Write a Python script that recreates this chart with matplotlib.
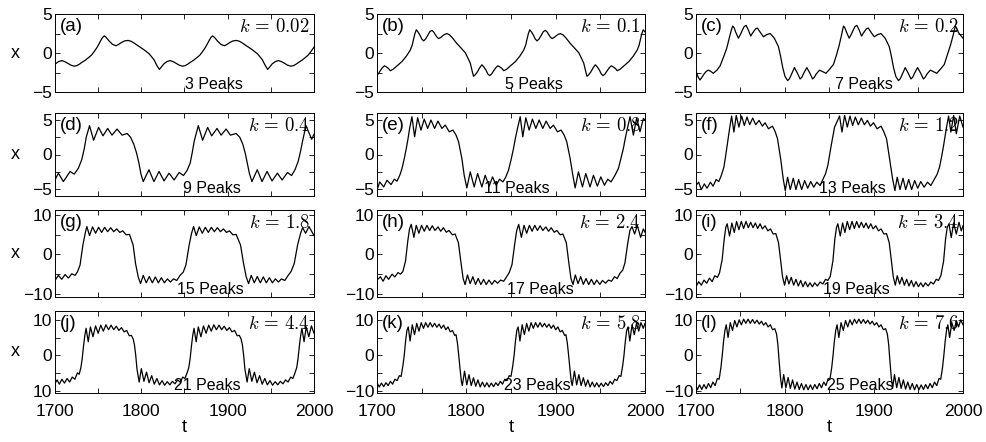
import matplotlib
matplotlib.use("Agg")
import matplotlib.pyplot as plt

plt.rcParams['font.family'] = ['Liberation Sans', 'DejaVu Sans']
plt.rcParams['mathtext.fontset'] = 'cm'

# ---------------- data (t, x) ----------------
PANEL_A = [(1700,-1.42),(1704.2,-1.1),(1707.8,-0.97),(1711.2,-1.1),(1714.5,-1.3),(1718.2,-1.55),
           (1722.2,-1.69),(1725.2,-1.62),(1728,-1.45),(1731.2,-1.2),(1735,-0.93),(1738.2,-0.65),(1742,-0.3),
           (1745.2,0.15),(1748.6,0.7),(1750.9,1.15),(1753,1.6),(1755.2,2.0),(1757.1,2.2),(1759.2,2.0),(1763,1.5),
           (1766.7,1.1),(1770.7,0.93),(1773.7,1.1),(1777,1.35),(1780.7,1.55),(1784.7,1.61),(1788.2,1.5),
           (1792,1.25),(1797.2,0.85),(1803,0.42),(1809,-0.1),(1814.6,-0.85),(1818,-1.6),(1820.9,-2.1),
           (1823.2,-1.8),(1826,-1.4),(1829.7,-1.1),(1833.3,-0.97),(1836.7,-1.1),(1840,-1.3),(1843.7,-1.55),
           (1847.7,-1.69),(1850.7,-1.62),(1853.5,-1.45),(1856.7,-1.2),(1860.5,-0.93),(1863.7,-0.65),(1867.5,-0.3),
           (1870.7,0.15),(1874.1,0.7),(1876.4,1.15),(1878.5,1.6),(1880.7,2.0),(1882.6,2.2),(1884.7,2.0),
           (1888.5,1.5),(1892.2,1.1),(1896.2,0.93),(1899.2,1.1),(1902.5,1.35),(1906.2,1.55),(1910.2,1.61),
           (1913.7,1.5),(1917.5,1.25),(1922.7,0.85),(1928.5,0.42),(1934.5,-0.1),(1940.1,-0.85),(1943.5,-1.6),
           (1946.4,-2.1),(1948.7,-1.8),(1951.5,-1.4),(1955.2,-1.1),(1958.8,-0.97),(1962.2,-1.1),(1965.5,-1.3),
           (1969.2,-1.55),(1973.2,-1.69),(1976.2,-1.62),(1979,-1.45),(1982.2,-1.2),(1986,-0.93),(1989.2,-0.65),
           (1993,-0.3),(1996.2,0.15),(2000,0.75)]

PANEL_B = [(1700,-2.8),(1701.2,-2.7),(1703.5,-2.3),(1705.9,-1.9),(1708.3,-1.64),(1710.7,-1.8),(1713,-2.0),
           (1714.9,-2.27),(1717.9,-2.1),(1720.9,-1.8),(1724.9,-1.4),(1727.9,-1.1),(1732.9,-0.4),(1737.3,0.38),
           (1739.4,1.0),(1741,1.8),(1742.5,2.5),(1744,2.98),(1745.9,2.7),(1748,2.3),(1750.1,1.8),(1752.2,1.55),
           (1754.4,1.8),(1757,2.3),(1759.2,2.75),(1761.5,2.9),(1763.4,2.7),(1765,2.4),(1767,2.05),(1769,1.85),
           (1771.4,2.0),(1773.5,2.2),(1775.9,2.4),(1778.3,2.48),(1780.9,2.35),(1784,2.0),(1789.4,1.22),
           (1794,0.65),(1798.8,0.04),(1802,-0.7),(1804.4,-1.3),(1806.5,-2.3),(1808,-2.98),(1809.9,-2.8),
           (1812.5,-2.4),(1814.9,-1.9),(1817.4,-1.51),(1819.7,-1.8),(1822,-2.2),(1823.9,-2.65),(1826,-2.9),
           (1828.2,-2.7),(1830.5,-2.3),(1832.9,-1.9),(1835.3,-1.64),(1837.7,-1.8),(1840,-2.0),
           (1841.9,-2.27),(1844.9,-2.1),(1847.9,-1.8),(1851.9,-1.4),(1854.9,-1.1),(1859.9,-0.4),(1864.3,0.38),
           (1866.4,1.0),(1868,1.8),(1869.5,2.5),(1871,2.98),(1872.9,2.7),(1875,2.3),(1877.1,1.8),(1879.2,1.55),
           (1881.4,1.8),(1884,2.3),(1886.2,2.75),(1888.5,2.9),(1890.4,2.7),(1892,2.4),(1894,2.05),(1896,1.85),
           (1898.4,2.0),(1900.5,2.2),(1902.9,2.4),(1905.3,2.48),(1907.9,2.35),(1911,2.0),(1916.4,1.22),
           (1921,0.65),(1925.8,0.04),(1929,-0.7),(1931.4,-1.3),(1933.5,-2.3),(1935,-2.98),(1936.9,-2.8),
           (1939.5,-2.4),(1941.9,-1.9),(1944.4,-1.51),(1946.7,-1.8),(1949,-2.2),(1950.9,-2.65),(1953,-2.9),
           (1955.2,-2.7),(1957.5,-2.3),(1959.9,-1.9),(1962.3,-1.64),(1964.7,-1.8),(1967,-2.0),
           (1968.9,-2.27),(1971.9,-2.1),(1974.9,-1.8),(1978.9,-1.4),(1981.9,-1.1),(1986.9,-0.4),(1991.3,0.38),
           (1993.4,1.0),(1995,1.8),(1996.5,2.5),(1998,2.98),(2000,2.7)]

PANEL_C = [(1700,-2.3),(1702,-3.0),(1704.5,-3.46),(1706.8,-3.1),(1709,-2.7),(1711.5,-2.35),(1713.9,-2.2),
           (1716.5,-2.35),(1719.5,-2.6),(1723.5,-2.2),(1727,-1.67),(1731,-0.5),(1734.5,0.6),(1738,2.2),
           (1739.8,3.0),(1741.3,3.46),(1743,3.2),(1744.5,2.7),(1747.6,1.9),(1750,2.4),(1752,2.9),(1754.2,3.4),
           (1756.3,3.54),(1759,2.9),(1761.5,2.17),(1763.2,2.5),(1765,2.8),(1767,3.1),(1769,3.2),(1772.5,2.6),
           (1775.8,2.08),(1779.5,2.35),(1783.3,2.5),(1788,1.9),(1792.6,0.83),(1795,-0.4),(1797.5,-1.9),
           (1800,-3.0),(1803,-3.54),(1805,-3.3),(1807,-2.8),(1810.6,-1.87),(1814,-2.6),(1817,-3.33),(1819,-3.1),
           (1821,-2.6),(1824.5,-1.87),(1828,-2.6),(1831,-3.33),(1833,-3.1),(1835,-2.7),(1838.8,-2.2),
           (1842.5,-2.4),(1846,-2.6),(1850,-2.1),(1854.5,-1.46),(1858,-0.2),(1861,1.04),(1863.5,2.3),
           (1864.8,3.0),(1865.8,3.46),(1867.4,3.2),(1869,2.7),(1872.1,1.9),(1874.5,2.4),(1876.5,2.9),
           (1878.7,3.4),(1880.8,3.54),(1883.5,2.9),(1886,2.17),(1887.7,2.5),(1889.5,2.8),(1891.5,3.1),
           (1893.5,3.2),(1897,2.6),(1900.3,2.08),(1904,2.35),(1907.8,2.5),(1912.5,1.9),(1917.1,0.83),
           (1919.5,-0.4),(1922,-1.9),(1924.5,-3.0),(1927.5,-3.54),(1929.5,-3.3),(1931.5,-2.8),(1935.1,-1.87),
           (1938.5,-2.6),(1941.5,-3.33),(1943.5,-3.1),(1945.5,-2.6),(1949,-1.87),(1952.5,-2.6),(1955.5,-3.33),
           (1957.5,-3.1),(1959.5,-2.7),(1963.3,-2.2),(1967,-2.4),(1970.5,-2.6),(1974.5,-2.1),(1979,-1.46),
           (1982.5,-0.2),(1986,1.04),(1989,2.3),(1990.4,3.0),(1991.5,3.46),(1993.2,3.1),(1995,2.6),(2000,1.9)]

PANEL_D = [(1700,-3.68),(1703.9,-2.7),(1709.7,-3.92),(1717.5,-2.45),(1722.2,-2.84),(1727,-2.0),(1731,-0.74),
           (1734,0.9),(1736.1,2.45),(1740,4.17),(1744.7,2.06),(1750.5,3.92),(1755.6,2.7),(1761,3.77),(1766,2.8),
           (1771.9,3.68),(1777.7,2.8),(1783.5,3.04),(1787.5,2.5),(1791.3,1.47),(1794.5,0.2),(1797.2,-1.23),
           (1799.5,-2.8),(1802.2,-3.92),(1808.8,-2.2),(1814.6,-3.92),(1820.5,-2.45),(1826.3,-3.82),(1832.1,-2.7),
           (1838,-3.68),(1843.8,-2.6),(1848.8,-3.04),(1853,-2.3),(1856.6,-1.23),(1859,0.3),(1861.3,1.96),
           (1866,4.17),(1871,2.06),(1876.8,3.92),(1881.5,2.7),(1887.7,3.77),(1892.4,2.8),(1898.2,3.68),
           (1903.2,2.8),(1909.8,3.04),(1914,2.5),(1917.6,1.47),(1920.3,0.2),(1922.7,-1.23),(1925.3,-2.8),
           (1928.1,-3.92),(1934.3,-2.2),(1939.8,-3.92),(1945.6,-2.45),(1951.4,-3.82),(1957.6,-2.7),(1963.1,-3.68),
           (1969.3,-2.6),(1974,-3.04),(1978,-2.2),(1981.7,-0.98),(1984.5,0.5),(1986.8,1.96),(1990.7,4.17),
           (1997.3,2.2),(2000,2.94)]

PANEL_E = [(1700,-5.17),(1703,-3.96),(1707.5,-4.69),(1711.2,-3.72),(1715.7,-4.35),(1719.4,-3.57),(1722.4,-3.86),
           (1725.5,-3.0),(1728,-2.03),(1730.5,-0.6),(1732.8,0.87),(1735,2.5),(1736.5,3.77),(1739.1,5.46),
           (1742.1,2.56),(1745.5,5.31),(1749.2,3.53),(1752.9,5.12),(1756.7,3.77),(1760.4,4.98),(1764.5,3.77),
           (1768.2,4.83),(1772.7,3.77),(1776.4,4.25),(1780.9,3.28),(1785,3.53),(1788.5,2.8),(1791.3,1.84),
           (1795,-0.58),(1797.6,-3.0),(1800.6,-4.83),(1804.4,-2.51),(1808.8,-4.69),(1812.6,-2.75),(1817.4,-4.69),
           (1821.1,-3.0),(1825.6,-4.59),(1829.3,-3.24),(1833.4,-4.44),(1837.2,-3.57),(1840.9,-3.96),(1844,-3.3),
           (1847.2,-2.27),(1850,-0.8),(1852.8,0.87),(1855,2.4),(1857.3,3.77),(1860.3,5.46),(1863.2,2.56),
           (1866.6,5.31),(1870.3,3.53),(1874,5.12),(1877.8,3.77),(1881.5,4.98),(1885.6,3.77),(1889.3,4.83),
           (1893.8,3.77),(1897.5,4.25),(1902,3.28),(1906.1,3.53),(1909.5,2.8),(1912.4,1.84),(1916.2,-0.58),
           (1919.2,-3.0),(1921.8,-4.83),(1925.5,-2.51),(1930,-4.69),(1933.7,-2.75),(1938.5,-4.69),(1942.3,-3.0),
           (1946.7,-4.59),(1950.5,-3.24),(1954.6,-4.44),(1958.3,-3.57),(1962,-3.96),(1966,-3.1),(1970.2,-2.03),
           (1973,-0.6),(1975.8,0.87),(1978,2.4),(1980.3,3.77),(1983.3,5.46),(1987,2.8),(1990.7,5.31),
           (1994.4,3.28),(1998.2,5.22),(2000,4.98)]

PANEL_F = [(1700,-4.49),(1703,-4.0),(1706,-5.07),(1709.4,-4.25),(1712.4,-4.88),(1716.2,-4.0),(1719.2,-4.59),
           (1722.6,-3.62),(1725.6,-3.91),(1728.5,-3.0),(1731.3,-1.84),(1733.2,-0.3),(1735,1.3),(1737.7,3.72),
           (1740,5.56),(1742.6,3.24),(1745.2,5.65),(1748.2,3.96),(1751.3,5.56),(1754.3,4.2),(1757.3,5.41),
           (1760.3,4.3),(1763.7,5.27),(1767.1,4.3),(1770.9,4.93),(1774.6,4.1),(1777.6,4.59),(1781.4,3.72),
           (1785.9,4.1),(1789,3.3),(1791.6,2.27),(1795.4,-0.87),(1798,-3.53),(1800.3,-5.22),(1802.9,-3.29),
           (1805.9,-5.07),(1809.3,-3.43),(1812.3,-5.07),(1815.3,-3.62),(1818.7,-5.07),(1822.1,-3.77),
           (1825.5,-4.88),(1828.9,-3.91),(1832.3,-4.73),(1835.7,-4.0),(1839.5,-4.49),(1842.5,-3.62),(1845.5,-2.8),
           (1848.1,-1.59),(1851.9,1.3),(1855.7,3.96),(1861.3,5.56),(1864,3.24),(1867,5.65),(1870,3.96),
           (1873,5.56),(1876,4.2),(1879,5.41),(1882.4,4.3),(1885.8,5.27),(1889.2,4.3),(1892.6,4.93),(1896,4.1),
           (1899.4,4.59),(1903.5,3.72),(1908,4.1),(1911,3.3),(1914.1,2.27),(1917.8,-0.87),(1920.9,-3.53),
           (1923.5,-5.22),(1926.1,-3.29),(1929.2,-5.07),(1932.6,-3.43),(1935.6,-5.07),(1939,-3.62),(1942.3,-5.07),
           (1945.7,-3.77),(1949.1,-4.88),(1952.5,-3.91),(1956.3,-4.73),(1960.1,-4.0),(1963.8,-4.49),
           (1967.6,-3.62),(1970.8,-2.9),(1973.6,-1.84),(1976,-0.3),(1978.2,1.3),(1981.2,3.72),(1983.8,5.56),
           (1986.4,3.24),(1989.5,5.65),(1992.5,3.0),(1996.3,5.56),(2000,3.96)]

PANEL_G = [(1700,-6.6),(1703.9,-5.3),(1707.8,-6.3),(1711.7,-5.1),(1715.5,-6.0),(1719.4,-4.9),(1723.3,-5.3),
           (1726,-4.4),(1729,-2.7),(1732.3,2.4),(1735,5.4),(1736.9,7.1),(1740,4.8),(1743.5,7.0),(1747,5.4),
           (1750.5,6.9),(1754,5.6),(1757.5,6.9),(1761,5.8),(1764.5,6.8),(1768,5.8),(1771.5,6.5),(1775,5.6),
           (1778.5,6.0),(1782.4,5.0),(1786.3,5.1),(1790.5,2.4),(1793.3,-2.3),(1796.4,-5.7),(1799.1,-7.4),
           (1802.2,-5.3),(1805.7,-7.2),(1809.2,-5.6),(1812.7,-7.2),(1816.2,-5.7),(1819.7,-7.2),(1823.2,-5.9),
           (1826.7,-7.2),(1830.2,-6.2),(1833.7,-7.0),(1837.2,-6.2),(1841,-6.6),(1844.9,-5.3),(1848.5,-4.5),
           (1851.6,-2.7),(1855.4,2.4),(1858.2,5.4),(1860.5,7.1),(1863.6,4.8),(1867.1,7.0),(1870.6,5.4),
           (1874.1,6.9),(1877.6,5.6),(1881.1,6.9),(1884.6,5.8),(1888.1,6.8),(1891.6,5.8),(1895.1,6.5),(1898.6,5.6),
           (1902.1,6.0),(1906,5.0),(1909.8,5.1),(1914.9,2.4),(1918.4,-2.3),(1921.5,-5.7),(1924.2,-7.4),
           (1927.3,-5.3),(1930.8,-7.2),(1934.3,-5.6),(1937.8,-7.2),(1941.3,-5.7),(1944.8,-7.2),(1948.3,-5.9),
           (1951.8,-7.2),(1955.3,-6.2),(1958.8,-7.0),(1962.3,-6.2),(1966.2,-6.6),(1970.1,-5.3),(1973.5,-4.3),
           (1977.1,-2.3),(1981,2.4),(1984.5,5.4),(1986.8,6.8),(1990.3,5.4),(1994.2,7.1),(2000,4.8)]

PANEL_H = [(1700,-6.5),(1703.8,-5.65),(1706.8,-6.8),(1710,-5.4),(1713,-6.3),(1716.9,-5.0),(1719.9,-5.7),
           (1723.6,-4.6),(1726.3,-5.0),(1728.9,-4.35),(1731.9,-1.7),(1734.5,3.5),(1736.4,6.5),(1738.3,7.65),
           (1741.3,4.35),(1743.9,7.4),(1746.9,5.4),(1749.9,7.4),(1752.9,5.9),(1755.9,7.4),(1758.9,6.1),
           (1761.9,7.3),(1764.9,6.1),(1768.3,7.0),(1771.3,5.9),(1774.3,6.8),(1777.6,5.65),(1780.6,6.1),
           (1784.4,5.0),(1787.4,5.2),(1791.1,3.0),(1793.8,-1.7),(1796.4,-6.1),(1798.6,-7.65),(1801.3,-5.2),
           (1804.3,-7.4),(1807.3,-5.65),(1810.3,-7.6),(1813.3,-6.1),(1816.3,-7.65),(1819.3,-6.3),(1822.3,-7.65),
           (1825.3,-6.5),(1828.6,-7.6),(1831.6,-6.6),(1835,-7.3),(1838.4,-6.5),(1841.8,-6.8),(1845.1,-5.65),
           (1848,-4.6),(1851.1,-2.6),(1854.1,2.6),(1856.4,6.1),(1858.6,7.65),(1861.6,4.35),(1864.6,7.4),
           (1867.6,5.4),(1870.6,7.4),(1873.6,5.9),(1876.6,7.4),(1879.6,6.1),(1882.6,7.3),(1885.6,6.1),(1889,7.0),
           (1892,5.9),(1895,6.8),(1898.4,5.65),(1901.4,6.1),(1905.1,5.0),(1908.1,5.2),(1911.9,3.0),(1914.5,-1.7),
           (1917.1,-6.1),(1919.4,-7.65),(1922,-5.2),(1925,-7.4),(1928,-5.65),(1931,-7.6),(1934,-6.1),(1937,-7.65),
           (1940,-6.3),(1943,-7.65),(1946,-6.5),(1949.4,-7.6),(1952.4,-6.6),(1955.8,-7.3),(1959.1,-6.5),
           (1962.5,-6.8),(1965.9,-5.65),(1968.9,-6.1),(1971.9,-4.8),(1975,-4.0),(1977.5,-2.2),(1980.5,2.6),
           (1983.1,6.1),(1985.4,7.1),(1988.4,5.2),(1991.4,7.4),(1995.1,4.35),(1998.1,6.5),(2000,5.65)]

PANEL_I = [(1700,-8.2),(1703,-6.9),(1706,-7.8),(1709,-6.5),(1712,-7.3),(1715.1,-6.0),(1718.1,-6.9),(1721.1,-5.4),
           (1724.1,-5.8),(1726.4,-4.7),(1729.4,-1.3),(1731.7,3.9),(1733.5,6.9),(1735,7.8),(1737.7,4.7),(1740.3,8.0),
           (1743,5.6),(1745.6,8.4),(1748.2,6.3),(1750.9,8.4),(1753.5,6.6),(1756.2,8.4),(1758.8,6.8),(1761.4,8.2),
           (1764.1,6.8),(1766.7,8.0),(1769.3,6.6),(1772,7.8),(1774.6,6.5),(1777.6,7.3),(1780.7,6.0),(1783.7,6.5),
           (1786.7,5.2),(1789.7,5.3),(1792.7,3.0),(1795,-1.3),(1797.2,-5.6),(1799.5,-7.8),(1801.8,-5.4),
           (1804.4,-7.5),(1807,-5.8),(1809.7,-7.8),(1812.3,-6.3),(1815,-8.0),(1817.6,-6.6),(1820.2,-8.2),
           (1822.9,-6.9),(1825.5,-8.2),(1828.1,-7.2),(1830.8,-8.2),(1833.4,-7.2),(1836.4,-8.0),(1839.5,-7.0),
           (1842.5,-7.5),(1845.5,-6.3),(1848.1,-6.6),(1850.8,-5.6),(1853.8,-1.7),(1856,3.9),(1857.9,6.9),
           (1859.4,7.8),(1862.1,4.7),(1864.7,8.0),(1867.3,5.6),(1870,8.4),(1872.6,6.3),(1875.3,8.4),(1877.9,6.6),
           (1880.5,8.4),(1883.2,6.8),(1885.8,8.2),(1888.5,6.8),(1891.1,8.0),(1893.7,6.6),(1896.4,7.8),(1899,6.5),
           (1902,7.3),(1905,6.0),(1908,6.5),(1911.1,5.2),(1914.1,5.3),(1917.1,3.0),(1919.4,-1.3),(1921.6,-5.6),
           (1923.9,-7.8),(1926.1,-5.4),(1928.8,-7.5),(1931.4,-5.8),(1934.1,-7.8),(1936.7,-6.3),(1939.3,-8.0),
           (1942,-6.6),(1944.6,-8.2),(1947.2,-6.9),(1949.9,-8.2),(1952.5,-7.2),(1955.2,-8.2),(1957.8,-7.2),
           (1960.8,-8.0),(1963.8,-7.0),(1966.8,-7.5),(1969.9,-6.3),(1972.5,-6.6),(1975.1,-5.4),(1978.2,-1.7),
           (1980.4,3.9),(1982.3,6.9),(1984.2,7.8),(1986.8,4.3),(1989.5,8.0),(1992.5,5.2),(1995.5,8.2),
           (1998.1,6.0),(2000,7.3)]

PANEL_J = [(1700,-8.0),(1702.5,-7.0),(1705,-8.2),(1708,-6.8),(1711,-7.9),(1714,-6.6),(1717,-7.6),(1720,-6.2),
           (1723,-6.8),(1726,-5.0),(1728,-5.4),(1730,-3.5),(1731.5,-1.0),(1733,2.5),(1734.5,5.5),(1736,7.6),
           (1738.5,3.8),(1741,8.0),(1744,5.2),(1747,8.3),(1750,6.2),(1753,8.5),(1756,6.8),(1759,8.6),(1762,7.2),
           (1765,8.5),(1768,7.2),(1771,8.2),(1774,7.0),(1777,7.8),(1780,6.6),(1783,7.0),(1786,5.5),(1788.5,5.6),
           (1790.5,4.6),(1792,3.0),(1793.5,0.0),(1795,-4.0),(1797.5,-7.6),(1800,-3.8),(1803,-7.4),(1806,-4.8),
           (1809,-7.8),(1812,-5.8),(1815,-8.2),(1818,-6.6),(1821,-8.4),(1824,-7.2),(1827,-8.5),(1830,-7.5),
           (1833,-8.4),(1836,-7.4),(1839,-8.1),(1842,-7.0),(1845,-7.6),(1848,-6.2),(1850.5,-6.6),(1853,-5.0),
           (1855,-3.5),(1856.5,-1.0),(1858,2.5),(1859.5,5.5),(1861,7.6),(1863.5,3.8),(1866,8.0),(1869,5.2),
           (1872,8.3),(1875,6.2),(1878,8.5),(1881,6.8),(1884,8.6),(1887,7.2),(1890,8.5),(1893,7.2),(1896,8.2),
           (1899,7.0),(1902,7.8),(1905,6.6),(1908,7.0),(1911,5.5),(1913.5,5.6),(1915.5,4.6),(1917,3.0),
           (1918.5,0.0),(1920,-4.0),(1922.5,-7.6),(1925,-3.8),(1928,-7.4),(1931,-4.8),(1934,-7.8),(1937,-5.8),
           (1940,-8.2),(1943,-6.6),(1946,-8.4),(1949,-7.2),(1952,-8.5),(1955,-7.5),(1958,-8.4),(1961,-7.4),
           (1964,-8.1),(1967,-7.0),(1970,-7.6),(1973,-6.2),(1975.5,-6.6),(1978,-5.0),(1980,-3.5),(1981.5,-1.0),
           (1983,2.5),(1984.5,5.5),(1986,7.6),(1988.5,3.8),(1991,8.0),(1994,5.2),(1997,8.3),(2000,6.2)]

PANEL_K = [(1700,-7.8),(1702.5,-9.0),(1705,-7.9),(1707.5,-8.9),(1710,-7.8),(1712.5,-8.6),(1715,-7.4),
           (1717.5,-8.2),(1720,-6.8),(1722.5,-7.2),(1725,-5.8),(1727,-6.0),(1729,-3.0),(1730.5,0.0),(1732,4.0),
           (1733.5,7.0),(1735,8.0),(1737,4.0),(1739.5,8.6),(1742,5.8),(1744.5,9.0),(1747,6.8),(1749.5,9.2),
           (1752,7.6),(1754.5,9.2),(1757,7.9),(1759.5,9.2),(1762,8.0),(1764.5,9.0),(1767,7.9),(1769.5,8.8),
           (1772,7.6),(1774.5,8.5),(1777,7.2),(1779.5,8.0),(1782,6.6),(1784.5,7.0),(1787,5.6),(1788.5,5.8),
           (1790,3.5),(1791.5,0.0),(1793,-4.0),(1794.5,-7.5),(1795.5,-8.6),(1798,-4.5),(1800.5,-8.4),(1803,-5.5),
           (1805.5,-8.6),(1808,-6.4),(1810.5,-8.8),(1813,-7.0),(1815.5,-9.0),(1818,-7.6),(1820.5,-9.0),
           (1823,-7.8),(1825.5,-9.0),(1828,-7.9),(1830.5,-8.9),(1833,-7.8),(1835.5,-8.6),(1838,-7.4),(1840.5,-8.2),
           (1843,-6.8),(1845.5,-7.2),(1848,-5.8),(1850,-6.0),(1852,-3.0),(1853.5,0.0),(1855,4.0),(1856.5,7.0),
           (1858,8.0),(1860,4.0),(1862.5,8.6),(1865,5.8),(1867.5,9.0),(1870,6.8),(1872.5,9.2),(1875,7.6),
           (1877.5,9.2),(1880,7.9),(1882.5,9.2),(1885,8.0),(1887.5,9.0),(1890,7.9),(1892.5,8.8),(1895,7.6),
           (1897.5,8.5),(1900,7.2),(1902.5,8.0),(1905,6.6),(1907.5,7.0),(1910,5.6),(1911.5,5.8),(1913,3.5),
           (1914.5,0.0),(1916,-4.0),(1917.5,-7.5),(1918.5,-8.6),(1921,-4.5),(1923.5,-8.4),(1926,-5.5),
           (1928.5,-8.6),(1931,-6.4),(1933.5,-8.8),(1936,-7.0),(1938.5,-9.0),(1941,-7.6),(1943.5,-9.0),
           (1946,-7.8),(1948.5,-9.0),(1951,-7.9),(1953.5,-8.9),(1956,-7.8),(1958.5,-8.6),(1961,-7.4),
           (1963.5,-8.2),(1966,-6.8),(1968.5,-7.2),(1971,-5.8),(1973,-6.0),(1975,-3.0),(1976.5,0.0),(1978,4.0),
           (1979.5,7.0),(1981,8.0),(1983,4.0),(1985.5,8.6),(1988,5.8),(1990.5,9.0),(1993,6.8),(1995.5,9.2),
           (1998,7.6),(2000,9.0)]

PANEL_L = [(1700,-8.6),(1701.5,-9.8),(1704,-8.4),(1706.5,-9.7),(1709,-8.3),(1711.5,-9.5),(1714,-8.0),
           (1716.5,-9.2),(1719,-7.6),(1721.5,-8.6),(1724,-6.6),(1726,-6.8),(1728,-3.5),(1729.5,0.0),(1731,4.0),
           (1732.5,7.0),(1734,8.6),(1736,5.0),(1738.5,9.2),(1741,7.0),(1743.5,9.8),(1746,8.0),(1748.5,10.0),
           (1751,8.6),(1753.5,10.2),(1756,9.0),(1758.5,10.2),(1761,9.0),(1763.5,10.1),(1766,9.0),(1768.5,9.9),
           (1771,8.8),(1773.5,9.6),(1776,8.5),(1778.5,9.2),(1781,8.0),(1783.5,8.6),(1786,7.2),(1788.5,7.5),
           (1790.5,6.0),(1792,3.0),(1793.5,-2.0),(1795,-6.5),(1796.5,-9.3),(1798.5,-5.5),(1801,-9.2),
           (1803.5,-6.3),(1806,-9.4),(1808.5,-7.0),(1811,-9.6),(1813.5,-7.6),(1816,-9.7),(1818.5,-8.0),
           (1821,-9.8),(1823.5,-8.3),(1826,-9.8),(1828.5,-8.4),(1831,-9.7),(1833.5,-8.3),(1836,-9.5),(1838.5,-8.0),
           (1841,-9.2),(1843.5,-7.6),(1846,-8.6),(1848.5,-6.6),(1850.5,-6.8),(1852.5,-3.5),(1854,0.0),
           (1855.5,4.0),(1857,7.0),(1858.5,8.6),(1860.5,5.0),(1863,9.2),(1865.5,7.0),(1868,9.8),(1870.5,8.0),
           (1873,10.0),(1875.5,8.6),(1878,10.2),(1880.5,9.0),(1883,10.2),(1885.5,9.0),(1888,10.1),(1890.5,9.0),
           (1893,9.9),(1895.5,8.8),(1898,9.6),(1900.5,8.5),(1903,9.2),(1905.5,8.0),(1908,8.6),(1910.5,7.2),
           (1913,7.5),(1915,6.0),(1916.5,3.0),(1918,-2.0),(1919.5,-6.5),(1921,-9.3),(1923,-5.5),(1925.5,-9.2),
           (1928,-6.3),(1930.5,-9.4),(1933,-7.0),(1935.5,-9.6),(1938,-7.6),(1940.5,-9.7),(1943,-8.0),
           (1945.5,-9.8),(1948,-8.3),(1950.5,-9.8),(1953,-8.4),(1955.5,-9.7),(1958,-8.3),(1960.5,-9.5),
           (1963,-8.0),(1965.5,-9.2),(1968,-7.6),(1970.5,-8.6),(1973,-6.6),(1975,-6.8),(1977,-3.5),(1978.5,0.0),
           (1980,4.0),(1981.5,7.0),(1983,8.6),(1985,5.0),(1987.5,9.2),(1990,7.0),(1992.5,9.8),(1995,8.0),
           (1997.5,10.0),(2000,8.6)]

PANELS = [PANEL_A, PANEL_B, PANEL_C, PANEL_D, PANEL_E, PANEL_F,
          PANEL_G, PANEL_H, PANEL_I, PANEL_J, PANEL_K, PANEL_L]
LETTERS = ['(a)', '(b)', '(c)', '(d)', '(e)', '(f)', '(g)', '(h)', '(i)', '(j)', '(k)', '(l)']
K_VALUES = ['0.02', '0.1', '0.2', '0.4', '0.8', '1.2', '1.8', '2.4', '3.4', '4.4', '5.8', '7.6']
PEAKS = [3, 5, 7, 9, 11, 13, 15, 17, 19, 21, 23, 25]
PEAK_POS = [0.615, 0.585, 0.63, 0.605, 0.52, 0.585, 0.60, 0.61, 0.60, 0.59, 0.60, 0.615]

X_TICKS = [1700, 1750, 1800, 1850, 1900, 1950, 2000]
X_TICKLABELS = ['1700', '', '1800', '', '1900', '', '2000']
ROW_YLIM = [(-5, 5), (-6, 6), (-10.8, 11.3), (-10.7, 12.5)]
ROW_YTICKS = [[-5, -2.5, 0, 2.5, 5], [-5, -2.5, 0, 2.5, 5], [-10, -5, 0, 5, 10], [-10, -5, 0, 5, 10]]
ROW_YTICKLABELS = [['\u22125', '', '0', '', '5'], ['\u22125', '', '0', '', '5'],
                   ['\u221210', '', '0', '', '10'], ['\u221210', '', '0', '', '10']]

# ---------------- layout (pixels) ----------------
W, H = 987, 442
COLS_PX = [(55, 314), (377, 645), (696, 963)]
ROWS_PX = [(14, 92), (113, 196), (210, 297), (311, 393)]

fig = plt.figure(figsize=(W / 100, H / 100), dpi=100)

for idx in range(12):
    r, c = divmod(idx, 3)
    x0, x1 = COLS_PX[c]
    y0, y1 = ROWS_PX[r]
    ax = fig.add_axes([x0 / W, 1 - y1 / H, (x1 - x0) / W, (y1 - y0) / H])
    ts = [p[0] for p in PANELS[idx]]
    xs = [p[1] for p in PANELS[idx]]
    ax.plot(ts, xs, color='black', lw=0.9)
    ax.set_xlim(1700, 2000)
    ax.set_ylim(*ROW_YLIM[r])
    ax.set_xticks(X_TICKS)
    ax.set_xticklabels(X_TICKLABELS if r == 3 else [''] * len(X_TICKS))
    ax.set_yticks(ROW_YTICKS[r])
    labels = list(ROW_YTICKLABELS[r])
    if r == 3 and c == 0:
        labels[0] = '10'
    ax.set_yticklabels(labels)
    ax.tick_params(direction='in', top=True, right=True, length=3.5, width=0.6,
                   labelsize=12.5)
    ax.tick_params(axis='y', pad=2)
    ax.tick_params(axis='x', pad=8)
    for s in ax.spines.values():
        s.set_linewidth(0.7)
    ax.text(0.02, 0.95, LETTERS[idx], transform=ax.transAxes, ha='left', va='top', fontsize=13.5)
    ax.text(0.985, 0.955, r'$k\, =\, %s$' % K_VALUES[idx], transform=ax.transAxes,
            ha='right', va='top', fontsize=13.5)
    ax.text(PEAK_POS[idx], 0.0, '%d Peaks' % PEAKS[idx], transform=ax.transAxes,
            ha='center', va='bottom', fontsize=11.5)

for r in range(4):
    y0, y1 = ROWS_PX[r]
    fig.text(15 / W, 1 - (y0 + y1) / 2 / H, 'x', ha='center', va='center', fontsize=13)
for c in range(3):
    x0, x1 = COLS_PX[c]
    fig.text((x0 + x1) / 2 / W, 1 - 428 / H, 't', ha='center', va='center', fontsize=13)

fig.savefig('out.png', dpi=100)
